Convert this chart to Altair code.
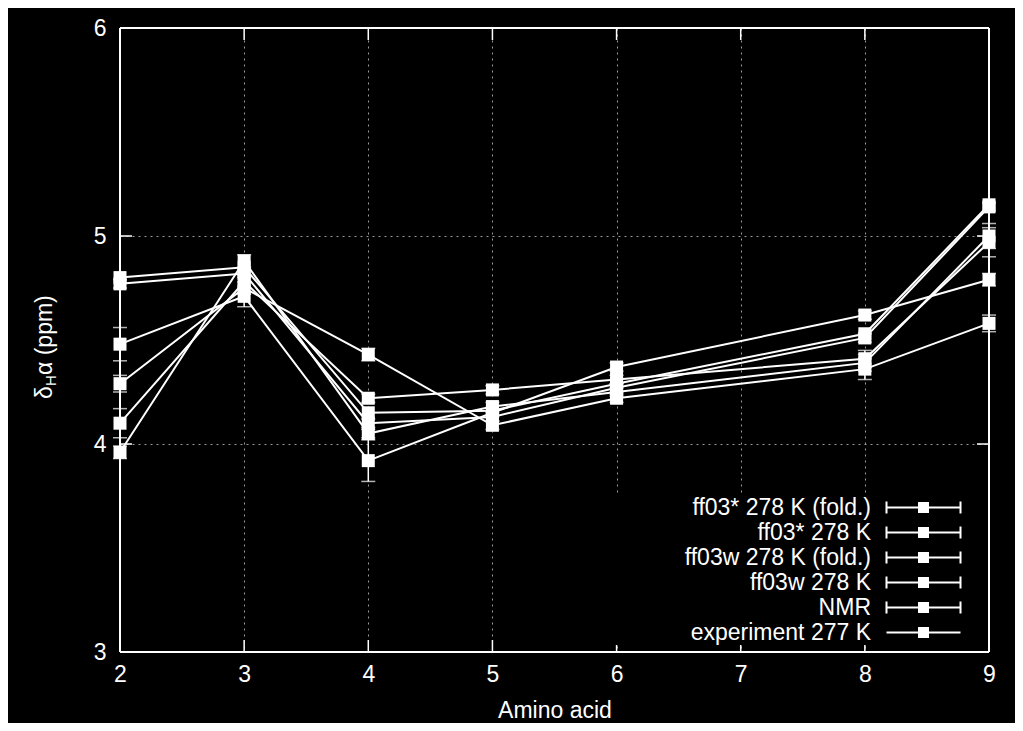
import altair as alt
import pandas as pd

# ---------------- data ----------------
series = ["ff03* 278 K (fold.)", "ff03* 278 K", "ff03w 278 K (fold.)",
          "ff03w 278 K", "NMR", "experiment 277 K"]
x_vals = [2, 3, 4, 5, 6, 8, 9]

v_ff03s_fold = [4.48, 4.71, 3.92, 4.15, 4.37, 4.62, 4.79]
v_ff03s = [3.96, 4.88, 4.05, 4.18, 4.25, 4.39, 5.00]
v_ff03w_fold = [4.10, 4.78, 4.22, 4.26, 4.31, 4.41, 4.97]
v_ff03w = [4.29, 4.75, 4.43, 4.09, 4.22, 4.36, 4.58]
v_nmr = [4.77, 4.82, 4.10, 4.13, 4.27, 4.51, 5.14]
v_exp = [4.80, 4.85, 4.15, 4.16, 4.29, 4.53, 5.15]

e_ff03s_fold = [0.08, 0.05, 0.10, 0.02, 0.02, 0.02, 0.03]
e_ff03s = [0.03, 0.03, 0.02, 0.02, 0.02, 0.04, 0.06]
e_ff03w_fold = [0.07, 0.03, 0.02, 0.02, 0.02, 0.04, 0.07]
e_ff03w = [0.04, 0.03, 0.03, 0.02, 0.02, 0.05, 0.04]
e_nmr = [0.02, 0.02, 0.02, 0.02, 0.02, 0.02, 0.02]
e_exp = [0, 0, 0, 0, 0, 0, 0]

x_ticks = [2, 3, 4, 5, 6, 7, 8, 9]
y_ticks = [3, 4, 5, 6]

values = [v_ff03s_fold, v_ff03s, v_ff03w_fold, v_ff03w, v_nmr, v_exp]
errors = [e_ff03s_fold, e_ff03s, e_ff03w_fold, e_ff03w, e_nmr, e_exp]

rows = []
for s, vs, es in zip(series, values, errors):
    for x, v, e in zip(x_vals, vs, es):
        rows.append({"series": s, "x": x, "y": v, "err": e,
                     "lo": v - e, "hi": v + e})
df = pd.DataFrame(rows)
df_err = df[df["err"] > 0]

# ---------------- style ----------------
W, H = 869, 624
FONT = "Liberation Sans"
FS = 23
WHITE = "white"

# legend glyph: line with error caps and a filled square, drawn to the
# right of the (right-aligned) label. Square made of dense strokes.
K = 30.4  # horizontal shift of the glyph, in symbol units
sq = "".join("M%.2f,%.2fH%.2f" % (K - 0.55, -0.45 + 0.15 * i, K + 0.55)
             for i in range(7))
cap_path = ("M%.2f,-0.6V0.6M%.2f,0H%.2fM%.2f,-0.6V0.6"
            % (K - 3.7, K - 3.7, K + 3.7, K + 3.7)) + sq
nocap_path = ("M%.2f,0H%.2f" % (K - 3.7, K + 3.7)) + sq
shape_range = [cap_path] * 5 + [nocap_path]

xs = alt.Scale(domain=[2, 9], nice=False, zero=False)
ys = alt.Scale(domain=[3, 6], nice=False, zero=False)

x_enc = alt.X("x:Q", scale=xs, axis=alt.Axis(
    values=x_ticks, format="d", title="Amino acid", ticks=False, domain=False,
    labelFontSize=FS, titleFontSize=FS, labelColor=WHITE, titleColor=WHITE,
    labelFont=FONT, titleFont=FONT, titleFontWeight="normal",
    labelPadding=11, titlePadding=13, grid=True, gridColor="#9a9a9a",
    gridDash=[2, 4], gridWidth=1, labelFlush=False))
y_enc = alt.Y("y:Q", scale=ys, axis=alt.Axis(
    values=y_ticks, format="d", title=None, ticks=False, domain=False,
    labelFontSize=FS, labelColor=WHITE, labelFont=FONT, labelPadding=14,
    grid=True, gridColor="#9a9a9a", gridDash=[2, 4], gridWidth=1,
    labelFlush=False))

base = alt.Chart(df)

lines = base.mark_line(color=WHITE, strokeWidth=2).encode(
    x=x_enc, y=y_enc, detail="series:N")

err_rule = alt.Chart(df_err).mark_rule(color=WHITE, strokeWidth=1.5).encode(
    x=alt.X("x:Q", scale=xs), y=alt.Y("lo:Q", scale=ys), y2="hi:Q")
cap_lo = alt.Chart(df_err).mark_tick(color=WHITE, orient="horizontal",
                                     size=14, thickness=1.5).encode(
    x=alt.X("x:Q", scale=xs), y=alt.Y("lo:Q", scale=ys))
cap_hi = alt.Chart(df_err).mark_tick(color=WHITE, orient="horizontal",
                                     size=14, thickness=1.5).encode(
    x=alt.X("x:Q", scale=xs), y=alt.Y("hi:Q", scale=ys))

squares = base.mark_square(size=169, color=WHITE, opacity=1,
                           filled=True).encode(
    x=alt.X("x:Q", scale=xs), y=alt.Y("y:Q", scale=ys))

legend_layer = base.mark_point(opacity=0, filled=False, color=WHITE).encode(
    x=alt.X("x:Q", scale=xs), y=alt.Y("y:Q", scale=ys),
    shape=alt.Shape("series:N",
                    scale=alt.Scale(domain=series, range=shape_range),
                    legend=alt.Legend(
                        orient="none", legendX=488, legendY=468, title=None,
                        labelFontSize=FS, labelColor=WHITE, labelFont=FONT,
                        labelAlign="right", labelOffset=240, labelLimit=400,
                        symbolSize=400,
                        symbolStrokeColor=WHITE, symbolStrokeWidth=2,
                        symbolOpacity=1,
                        fillColor="black", padding=0, rowPadding=1)))

df_xt = pd.DataFrame({"t": x_ticks})
df_yt = pd.DataFrame({"t": y_ticks})
tick_style = dict(color=WHITE, strokeWidth=1.5)
xt_bot = alt.Chart(df_xt).mark_rule(**tick_style).encode(
    x=alt.X("t:Q", scale=xs), y=alt.value(H), y2=alt.value(H - 12))
xt_top = alt.Chart(df_xt).mark_rule(**tick_style).encode(
    x=alt.X("t:Q", scale=xs), y=alt.value(0), y2=alt.value(12))
yt_left = alt.Chart(df_yt).mark_rule(**tick_style).encode(
    y=alt.Y("t:Q", scale=ys), x=alt.value(0), x2=alt.value(12))
yt_right = alt.Chart(df_yt).mark_rule(**tick_style).encode(
    y=alt.Y("t:Q", scale=ys), x=alt.value(W - 12), x2=alt.value(W))

one = pd.DataFrame({"k": [0]})
frame_style = dict(color=WHITE, strokeWidth=2)
f_top = alt.Chart(one).mark_rule(**frame_style).encode(
    x=alt.value(0), x2=alt.value(W), y=alt.value(0))
f_bot = alt.Chart(one).mark_rule(**frame_style).encode(
    x=alt.value(0), x2=alt.value(W), y=alt.value(H))
f_left = alt.Chart(one).mark_rule(**frame_style).encode(
    y=alt.value(0), y2=alt.value(H), x=alt.value(0))
f_right = alt.Chart(one).mark_rule(**frame_style).encode(
    y=alt.value(0), y2=alt.value(H), x=alt.value(W))

# y-axis title with subscript: δ_H α (ppm)
t_delta = alt.Chart(one).mark_text(
    angle=270, align="left", baseline="middle", fontSize=FS, font=FONT,
    color=WHITE).encode(x=alt.value(-75), y=alt.value(371),
                        text=alt.value("δ"))
t_sub = alt.Chart(one).mark_text(
    angle=270, align="left", baseline="middle", fontSize=15, font=FONT,
    color=WHITE).encode(x=alt.value(-69), y=alt.value(358),
                        text=alt.value("H"))
t_rest = alt.Chart(one).mark_text(
    angle=270, align="left", baseline="middle", fontSize=FS, font=FONT,
    color=WHITE).encode(x=alt.value(-75), y=alt.value(347),
                        text=alt.value("α (ppm)"))

chart = alt.layer(
    lines, err_rule, cap_lo, cap_hi, squares, legend_layer,
    xt_bot, xt_top, yt_left, yt_right,
    f_top, f_bot, f_left, f_right,
    t_delta, t_sub, t_rest,
).properties(
    width=W, height=H,
    autosize=alt.AutoSizeParams(type="none"),
    padding={"left": 112, "top": 20, "right": 26, "bottom": 71},
).configure(background="black").configure_view(stroke=None)

chart.save("out.html", embed_options={"renderer": "svg", "actions": False})
